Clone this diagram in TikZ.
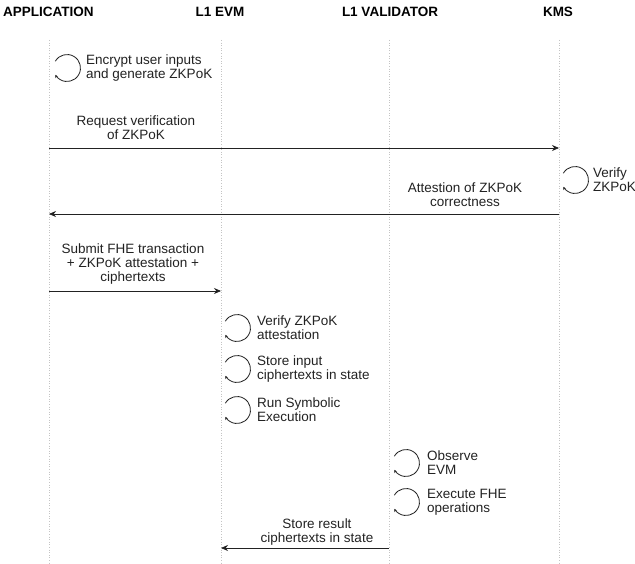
\documentclass[tikz,border=0pt]{standalone}
\usepackage{fontspec}
\setmainfont{Liberation Sans}
\usetikzlibrary{arrows.meta}
\definecolor{ink}{HTML}{222222}
\definecolor{life}{HTML}{C4C4C4}
\tikzset{
  head/.style={font=\fontsize{13.5}{15}\selectfont\bfseries, text=black, inner sep=0pt},
  lbl/.style={font=\fontsize{13.5}{14}\selectfont, text=ink, align=center, inner sep=0pt},
  lbll/.style={font=\fontsize{13.5}{14}\selectfont, text=ink, align=left, inner sep=0pt, anchor=west},
  lifeline/.style={life, dotted, line width=0.6pt},
  msg/.style={ink, line width=0.8pt, -{Stealth[length=7pt,width=6pt]}},
  selfloop/.style={ink, line width=0.8pt, -{Stealth[length=3pt,width=3pt]}},
}
\newcommand{\myloop}[1]{\draw[selfloop] (#1) ++(150:13.5pt) arc[start angle=150, end angle=-150, radius=13.5pt];}
\begin{document}
\begin{tikzpicture}[x=1pt,y=-1pt]
\useasboundingbox (0,0) rectangle (635,564);
% headers
\node[head, anchor=west] (hApp) at (3,12) {APPLICATION};
\node[head] (hEvm) at (220,12) {L1 EVM};
\node[head] (hVal) at (390,12) {L1 VALIDATOR};
\node[head] (hKms) at (558,12) {KMS};
% lifelines
\coordinate (aT) at (49,40);  \coordinate (aB) at (49,564);
\coordinate (eT) at (221,40); \coordinate (eB) at (221,564);
\coordinate (vT) at (389,40); \coordinate (vB) at (389,564);
\coordinate (kT) at (559,40); \coordinate (kB) at (559,564);
\draw[lifeline] (aT) -- (aB);
\draw[lifeline] (eT) -- (eB);
\draw[lifeline] (vT) -- (vB);
\draw[lifeline] (kT) -- (kB);
% self loop 1
\coordinate (l1) at (67,68);
\myloop{l1}
\node[lbll] (t1) at (86,68) {Encrypt user inputs\\and generate ZKPoK};
% message 1
\coordinate (m1a) at (49,148); \coordinate (m1b) at (559,148);
\draw[msg] (m1a) -- (m1b);
\node[lbl] (t2) at (136,128) {Request verification\\of ZKPoK};
% KMS loop
\coordinate (l2) at (575,180);
\myloop{l2}
\node[lbll] (t3) at (593,180) {Verify\\ZKPoK};
% message 2
\coordinate (m2a) at (559,214); \coordinate (m2b) at (49,214);
\draw[msg] (m2a) -- (m2b);
\node[lbl] (t4) at (465,195) {Attestion of ZKPoK\\correctness};
% message 3
\coordinate (m3a) at (49,291); \coordinate (m3b) at (221,291);
\draw[msg] (m3a) -- (m3b);
\node[lbl] (t5) at (133,264) {Submit FHE transaction\\+ ZKPoK attestation +\\ciphertexts};
% EVM loops
\coordinate (l3) at (237,328);
\myloop{l3}
\node[lbll] (t6) at (257,328) {Verify ZKPoK\\attestation};
\coordinate (l4) at (237,369);
\myloop{l4}
\node[lbll] (t7) at (257,369) {Store input\\ciphertexts in state};
\coordinate (l5) at (237,410);
\myloop{l5}
\node[lbll] (t8) at (257,410) {Run Symbolic\\Execution};
% validator loops
\coordinate (l6) at (406,463);
\myloop{l6}
\node[lbll] (t9) at (427,463) {Observe\\EVM};
\coordinate (l7) at (406,502);
\myloop{l7}
\node[lbll] (t10) at (427,502) {Execute FHE\\operations};
% message 4
\coordinate (m4a) at (389,548); \coordinate (m4b) at (221,548);
\draw[msg] (m4a) -- (m4b);
\node[lbl] (t11) at (317,532) {Store result\\ciphertexts in state};
\end{tikzpicture}
\end{document}
